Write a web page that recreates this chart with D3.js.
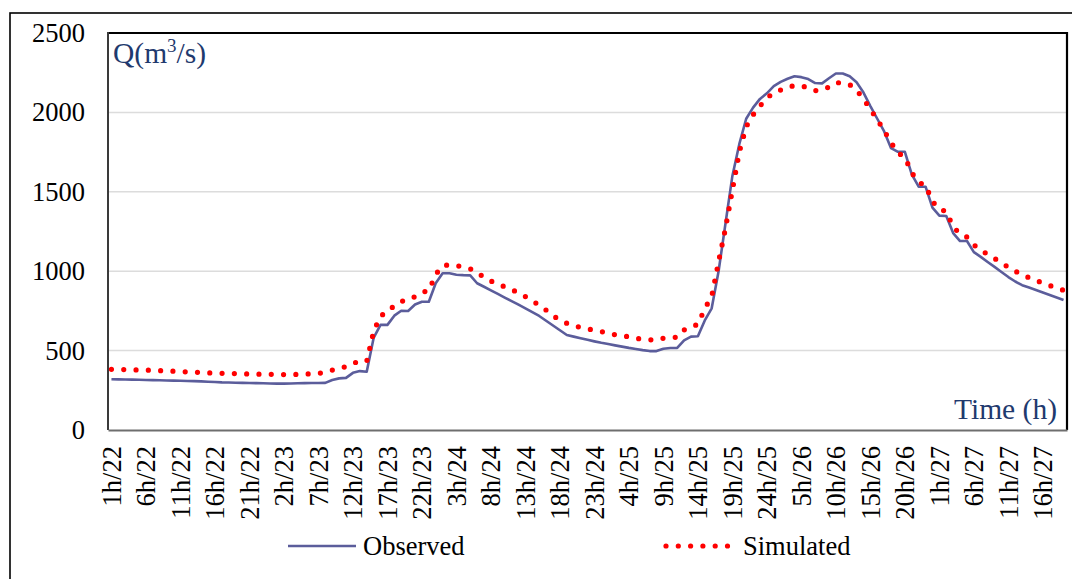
<!DOCTYPE html>
<html>
<head>
<meta charset="utf-8">
<script src="https://cdn.jsdelivr.net/npm/d3@7"></script>
<style>
  html, body { margin: 0; padding: 0; background: #fff; }
  svg { display: block; }
  text { font-family: "Liberation Serif", "Times New Roman", serif; }
</style>
</head>
<body>
<svg id="chart" width="1072" height="579"></svg>
<script>
// Hourly time steps (hour/day), 1h/22 through 19h/27
const categories = [
  "1h/22","2h/22","3h/22","4h/22","5h/22","6h/22","7h/22","8h/22","9h/22","10h/22","11h/22","12h/22",
  "13h/22","14h/22","15h/22","16h/22","17h/22","18h/22","19h/22","20h/22","21h/22","22h/22","23h/22","24h/22",
  "1h/23","2h/23","3h/23","4h/23","5h/23","6h/23","7h/23","8h/23","9h/23","10h/23","11h/23","12h/23",
  "13h/23","14h/23","15h/23","16h/23","17h/23","18h/23","19h/23","20h/23","21h/23","22h/23","23h/23","24h/23",
  "1h/24","2h/24","3h/24","4h/24","5h/24","6h/24","7h/24","8h/24","9h/24","10h/24","11h/24","12h/24",
  "13h/24","14h/24","15h/24","16h/24","17h/24","18h/24","19h/24","20h/24","21h/24","22h/24","23h/24","24h/24",
  "1h/25","2h/25","3h/25","4h/25","5h/25","6h/25","7h/25","8h/25","9h/25","10h/25","11h/25","12h/25",
  "13h/25","14h/25","15h/25","16h/25","17h/25","18h/25","19h/25","20h/25","21h/25","22h/25","23h/25","24h/25",
  "1h/26","2h/26","3h/26","4h/26","5h/26","6h/26","7h/26","8h/26","9h/26","10h/26","11h/26","12h/26",
  "13h/26","14h/26","15h/26","16h/26","17h/26","18h/26","19h/26","20h/26","21h/26","22h/26","23h/26","24h/26",
  "1h/27","2h/27","3h/27","4h/27","5h/27","6h/27","7h/27","8h/27","9h/27","10h/27","11h/27","12h/27",
  "13h/27","14h/27","15h/27","16h/27","17h/27","18h/27","19h/27"
];

// Labels shown on the time axis
const tickLabels = [
  "1h/22","6h/22","11h/22","16h/22","21h/22","2h/23","7h/23","12h/23","17h/23","22h/23",
  "3h/24","8h/24","13h/24","18h/24","23h/24","4h/25","9h/25","14h/25","19h/25","24h/25",
  "5h/26","10h/26","15h/26","20h/26","1h/27","6h/27","11h/27","16h/27"
];

// Discharge Q (m3/s)
const observed = [
  320,319,318,317,316,315,314,313,312,311,
  310,309,308,306,304,302,300,299,298,297,
  296,295,294,293,292,292,293,294,295,296,
  296,297,315,325,328,360,371,367,580,662,
  662,720,751,749,790,808,808,924,987,987,
  978,975,974,924,902,879,857,834,812,789,
  766,742,718,688,658,628,598,588,578,568,
  558,549,541,533,525,517,510,503,497,497,
  512,516,517,565,588,590,690,766,1000,1300,
  1600,1800,1960,2030,2085,2120,2165,2192,2212,2228,
  2222,2210,2185,2183,2215,2245,2245,2228,2190,2125,
  2040,1960,1880,1775,1752,1752,1610,1532,1532,1400,
  1350,1348,1240,1190,1190,1120,1090,1058,1027,995,
  963,935,912,897,882,866,850,835,819
];

const simulated = [
  382,381,380,379,378,377,376,374,372,370,
  368,366,364,362,360,358,357,356,355,354,
  353,352,351,351,350,349,349,350,352,354,
  356,365,377,386,400,422,430,432,620,720,
  740,785,810,818,840,868,877,980,1035,1040,
  1035,1027,1015,995,960,938,920,902,883,865,
  840,815,785,755,718,695,672,657,646,637,
  628,620,610,600,593,587,578,571,568,567,
  578,583,584,630,650,665,765,840,1060,1270,
  1510,1750,1910,1985,2040,2090,2125,2141,2160,2168,
  2167,2155,2137,2142,2160,2188,2185,2175,2140,2085,
  2020,1955,1885,1810,1745,1718,1620,1560,1540,1440,
  1390,1377,1280,1235,1215,1165,1135,1105,1080,1053,
  1025,1000,978,959,942,925,910,895,880
];

const yTicks = [0, 500, 1000, 1500, 2000, 2500];

const plot = { left: 108, right: 1067, top: 33, bottom: 430 };
const obsColor = "#5B5D9B";
const simColor = "#FF0000";
const titleColor = "#1F3A6E";
const fontSize = 26.5;

const svg = d3.select("#chart");

// Outer chart frame
svg.append("rect")
  .attr("x", 10).attr("y", 13)
  .attr("width", 1100).attr("height", 620)
  .attr("fill", "none").attr("stroke", "#000").attr("stroke-width", 1.6);

const x = d3.scaleBand().domain(categories).range([plot.left, plot.right]).padding(0);
const xc = d => x(d) + x.bandwidth() / 2;
const y = d3.scaleLinear().domain([0, 2500]).range([plot.bottom, plot.top]);

// Horizontal gridlines
svg.append("g")
  .selectAll("line")
  .data(yTicks.filter(v => v > 0 && v < 2500))
  .join("line")
  .attr("x1", plot.left).attr("x2", plot.right)
  .attr("y1", d => y(d)).attr("y2", d => y(d))
  .attr("stroke", "#DCDCDC").attr("stroke-width", 1.5);

// Plot frame
svg.append("line")
  .attr("x1", plot.left).attr("x2", plot.right)
  .attr("y1", plot.top).attr("y2", plot.top)
  .attr("stroke", "#000").attr("stroke-width", 2.2);
svg.append("line")
  .attr("x1", plot.right).attr("x2", plot.right)
  .attr("y1", plot.top - 1).attr("y2", plot.bottom)
  .attr("stroke", "#000").attr("stroke-width", 2.2);
svg.append("line")
  .attr("x1", plot.left).attr("x2", plot.left)
  .attr("y1", plot.top - 1).attr("y2", plot.bottom)
  .attr("stroke", "#3a3a3a").attr("stroke-width", 2);

// Y axis labels
const yAxis = d3.axisLeft(y)
  .tickValues(yTicks)
  .tickFormat(d3.format("d"))
  .tickSize(0)
  .tickPadding(23);
const gy = svg.append("g")
  .attr("transform", `translate(${plot.left},0)`)
  .call(yAxis);
gy.select(".domain").remove();
gy.selectAll("text")
  .attr("font-family", "Liberation Serif, Times New Roman, serif")
  .attr("font-size", fontSize)
  .attr("fill", "#000");

// X axis with rotated hour labels
const xAxis = d3.axisBottom(x)
  .tickValues(tickLabels)
  .tickSize(0)
  .tickPadding(0);
const gx = svg.append("g")
  .attr("transform", `translate(0,${plot.bottom})`)
  .call(xAxis);
gx.select(".domain")
  .attr("stroke", "#6E6E6E").attr("stroke-width", 2);
gx.selectAll("text")
  .attr("font-family", "Liberation Serif, Times New Roman, serif")
  .attr("font-size", fontSize)
  .attr("fill", "#000")
  .attr("text-anchor", "end")
  .attr("transform", "rotate(-90)")
  .attr("x", -16)
  .attr("y", 0)
  .attr("dy", "0.35em");

// Series lines
const line = d3.line()
  .x((d, i) => xc(categories[i]))
  .y(d => y(d));

svg.append("path")
  .datum(observed)
  .attr("d", line)
  .attr("fill", "none")
  .attr("stroke", obsColor)
  .attr("stroke-width", 2.6)
  .attr("stroke-linejoin", "round");

svg.append("path")
  .datum(simulated)
  .attr("d", line)
  .attr("fill", "none")
  .attr("stroke", simColor)
  .attr("stroke-width", 5.2)
  .attr("stroke-linecap", "round")
  .attr("stroke-dasharray", "0 12.3");

// Axis captions inside the plot
const qLabel = svg.append("text")
  .attr("x", 113).attr("y", 63)
  .attr("font-size", 29.5)
  .attr("fill", titleColor);
qLabel.append("tspan").text("Q(m");
qLabel.append("tspan").attr("font-size", 19).attr("dy", -11).text("3");
qLabel.append("tspan").attr("dy", 11).text("/s)");

svg.append("text")
  .attr("x", 1057).attr("y", 419)
  .attr("text-anchor", "end")
  .attr("font-size", 29.5)
  .attr("fill", titleColor)
  .text("Time (h)");

// Legend
const legend = svg.append("g");
legend.append("line")
  .attr("x1", 288).attr("x2", 356)
  .attr("y1", 546).attr("y2", 546)
  .attr("stroke", obsColor).attr("stroke-width", 2.6);
legend.append("text")
  .attr("x", 363).attr("y", 555)
  .attr("font-size", fontSize).attr("fill", "#000")
  .text("Observed");
legend.append("line")
  .attr("x1", 666).attr("x2", 731)
  .attr("y1", 546).attr("y2", 546)
  .attr("stroke", simColor).attr("stroke-width", 5.2)
  .attr("stroke-linecap", "round")
  .attr("stroke-dasharray", "0 12.3");
legend.append("text")
  .attr("x", 743).attr("y", 555)
  .attr("font-size", fontSize).attr("fill", "#000")
  .text("Simulated");
</script>
</body>
</html>
